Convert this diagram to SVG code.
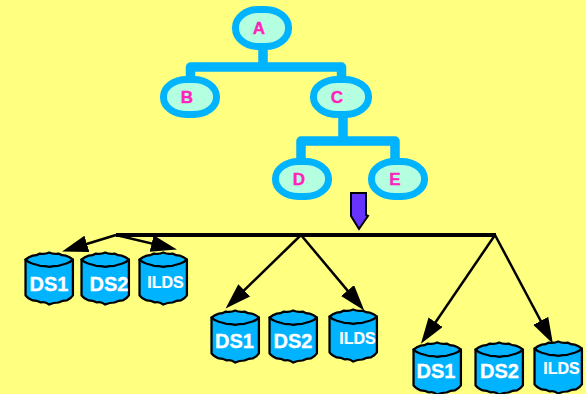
<svg xmlns="http://www.w3.org/2000/svg" width="586" height="394" viewBox="0 0 586 394">
<style>
.oval{fill:#b3ffe0;stroke:#00b3ff;stroke-width:7}
.nl{font:bold 17px "Liberation Sans",Arial,sans-serif;fill:#ff22bb;stroke:#ff22bb;stroke-width:.35;text-anchor:middle}
.ds{font:bold 20px "Liberation Sans",Arial,sans-serif;fill:#fff;stroke:#fff;stroke-width:.3;text-anchor:middle}
.il{font:bold 16px "Liberation Sans",Arial,sans-serif;fill:#fff;stroke:#fff;stroke-width:.2;text-anchor:middle}
.tree{fill:none;stroke:#00b3ff;stroke-width:9.5;stroke-linejoin:round}
.arr{stroke:#000;stroke-width:2.5;fill:none;marker-end:url(#head)}
.body{fill:#00b3ff;stroke:#000;stroke-width:2.2;stroke-linejoin:round}
</style>
<defs>
<marker id="head" markerUnits="userSpaceOnUse" markerWidth="28" markerHeight="20" refX="20" refY="8.5" orient="auto">
<path d="M0 0L26 8.500L0 17Z" fill="#000"/>
</marker>
<g id="cyl" transform="translate(-.5 -.5) scale(1.03 1.02)">
<path class="body" d="M1 8V43Q3 46 8 48Q12 48 16 50Q20 49 24 52Q28 50 33 50Q37 48 41 48Q45 46 47 43V8Z"/>
<path class="body" d="M1 8Q4 5 8 4Q12 4 15 2Q20 3 24 1Q28 3 33 2Q36 4 40 4Q44 5 47 8Q44 11 40 12Q36 13 33 14Q28 14 24 15Q20 14 15 14Q12 13 8 12Q4 11 1 8Z"/>
</g>
</defs>
<rect width="586" height="394" fill="#ffff80"/>
<g id="node-a"><rect class="oval" x="235.500" y="9.500" width="53" height="37" rx="23" ry="18"/><text class="nl" x="259" y="33.500">A</text></g>
<g id="node-b"><rect class="oval" x="163.500" y="79.500" width="53" height="35" rx="23" ry="17"/><text class="nl" x="187" y="103">B</text></g>
<g id="node-c"><rect class="oval" x="313.500" y="79.500" width="55" height="35" rx="24" ry="17"/><text class="nl" x="337" y="103">C</text></g>
<g id="node-d"><rect class="oval" x="275.500" y="161.500" width="53" height="35" rx="23" ry="17"/><text class="nl" x="299" y="185">D</text></g>
<g id="node-e"><rect class="oval" x="371.500" y="161.500" width="53" height="35" rx="23" ry="17"/><text class="nl" x="395" y="185">E</text></g>
<g id="connectors">
<path class="tree" d="M263 44V67M190.500 83V67H341.500V82M343 111V141M301 164V141H395V164"/>
<path id="pointer" d="M351 193H366V215L368 216L359 229L351 216Z" fill="#6633ff" stroke="#000" stroke-width="2"/>
<path d="M116 235H496" stroke="#000" stroke-width="4" fill="none"/>
<path class="arr" d="M116 235L67.800 249.800"/>
<path class="arr" d="M116 235L171.100 248.100"/>
<path class="arr" d="M301 235L229.900 304.200"/>
<path class="arr" d="M301 235L360.400 305.900"/>
<path class="arr" d="M495 235L424.300 338.700"/>
<path class="arr" d="M495 235L550.100 338.500"/>
</g>
<g id="ds1-a"><use href="#cyl" x="25" y="252"/><text class="ds" x="49" y="291">DS1</text></g>
<g id="ds2-a"><use href="#cyl" x="81" y="252"/><text class="ds" x="109" y="291">DS2</text></g>
<g id="ilds-a"><use href="#cyl" x="139" y="252"/><text class="il" x="165.500" y="288">ILDS</text></g>
<g id="ds1-b"><use href="#cyl" x="211" y="310"/><text class="ds" x="234.500" y="348">DS1</text></g>
<g id="ds2-b"><use href="#cyl" x="269" y="310"/><text class="ds" x="293" y="348">DS2</text></g>
<g id="ilds-b"><use href="#cyl" x="329" y="309"/><text class="il" x="357.500" y="344">ILDS</text></g>
<g id="ds1-c"><use href="#cyl" x="413" y="342"/><text class="ds" x="436" y="378">DS1</text></g>
<g id="ds2-c"><use href="#cyl" x="475" y="342"/><text class="ds" x="499.500" y="378">DS2</text></g>
<g id="ilds-c"><use href="#cyl" x="534" y="341"/><text class="il" x="561.500" y="374">ILDS</text></g>
</svg>
